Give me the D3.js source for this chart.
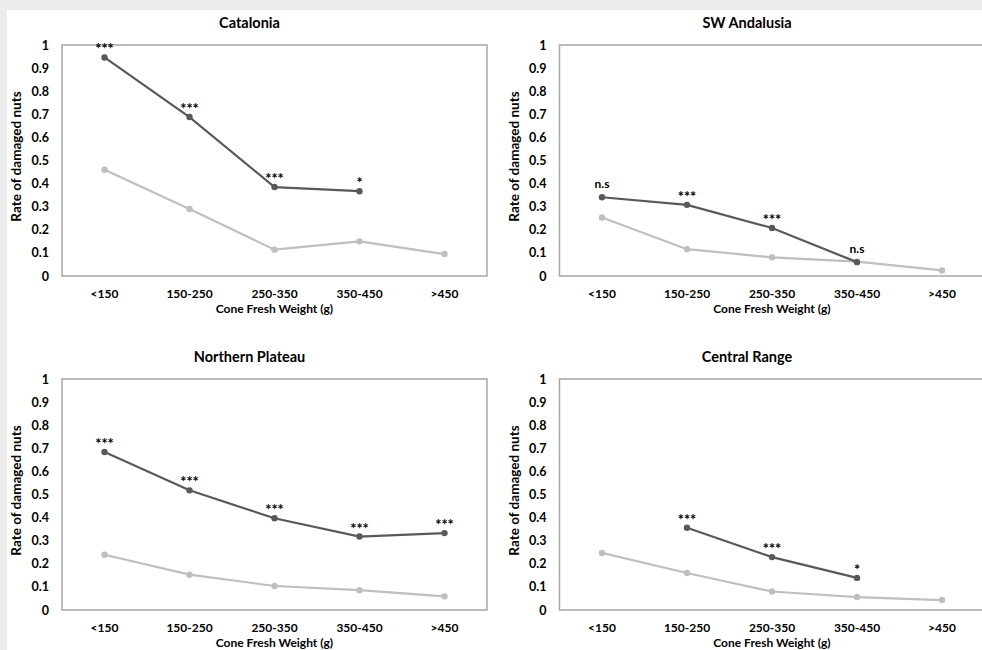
<!DOCTYPE html>
<html>
<head>
<meta charset="utf-8">
<script src="https://cdn.jsdelivr.net/npm/d3@7"></script>
<style>
  body { margin: 0; background: #ececec; }
  svg text { font-family: Lato, "Open Sans", sans-serif; font-weight: bold; fill: #000; }
</style>
</head>
<body>
<div id="chart"></div>
<script>
/* DATA */
const categories = ["<150", "150-250", "250-350", "350-450", ">450"];
const yTicks = [0, 0.1, 0.2, 0.3, 0.4, 0.5, 0.6, 0.7, 0.8, 0.9, 1];

const regions = ["Catalonia", "SW Andalusia", "Northern Plateau", "Central Range"];

// dark series (null = no point)
const catDark = [0.946, 0.688, 0.385, 0.367, null];
const andDark = [0.341, 0.308, 0.208, 0.060, null];
const norDark = [0.684, 0.518, 0.397, 0.318, 0.333];
const cenDark = [null, 0.356, 0.229, 0.139, null];

// light series
const catLight = [0.460, 0.290, 0.114, 0.150, 0.095];
const andLight = [0.253, 0.116, 0.081, 0.062, 0.024];
const norLight = [0.239, 0.153, 0.104, 0.086, 0.059];
const cenLight = [0.247, 0.160, 0.080, 0.056, 0.043];

// significance labels above the dark points
const catSig = ["***", "***", "***", "*", null];
const andSig = ["n.s", "***", "***", "n.s", null];
const norSig = ["***", "***", "***", "***", "***"];
const cenSig = [null, "***", "***", "*", null];

const xTitle = "Cone Fresh Weight (g)";
const yTitle = "Rate of damaged nuts";

/* LAYOUT */
const width = 982, height = 650;
const plotW = 425, plotH = 231;
const panels = [
  { title: regions[0], dark: catDark, light: catLight, sig: catSig, left: 62, top: 45 },
  { title: regions[1], dark: andDark, light: andLight, sig: andSig, left: 559.5, top: 45 },
  { title: regions[2], dark: norDark, light: norLight, sig: norSig, left: 62, top: 379 },
  { title: regions[3], dark: cenDark, light: cenLight, sig: cenSig, left: 559.5, top: 379 }
];

const darkColor = "#595959", lightColor = "#bfbfbf", frameColor = "#a6a6a6";

const svg = d3.select("#chart")
  .append("svg")
  .attr("width", width)
  .attr("height", height);

svg.append("rect")
  .attr("x", 7).attr("y", 10)
  .attr("width", width - 7).attr("height", height - 10)
  .attr("fill", "#fff");

panels.forEach(p => {
  const g = svg.append("g").attr("transform", `translate(${p.left}, ${p.top})`);

  const xScale = d3.scaleBand()
    .domain(categories)
    .range([0, plotW]);

  const yScale = d3.scaleLinear()
    .domain([0, 1])
    .range([plotH, 0]);

  const cx = d => xScale(d) + xScale.bandwidth() / 2;

  // frame
  g.append("rect")
    .attr("width", plotW).attr("height", plotH)
    .attr("fill", "none")
    .attr("stroke", frameColor)
    .attr("stroke-width", 1.5);

  // title
  g.append("text")
    .attr("x", plotW / 2 - 25)
    .attr("y", -21)
    .attr("text-anchor", "middle")
    .attr("dominant-baseline", "middle")
    .attr("font-size", 14.5)
    .text(p.title);

  // y axis
  const yAxis = d3.axisLeft(yScale)
    .tickValues(yTicks)
    .tickSize(0)
    .tickPadding(13)
    .tickFormat(d => d3.format("")(d));
  g.append("g")
    .attr("class", "axis y-axis")
    .call(yAxis)
    .call(a => a.select(".domain").remove())
    .selectAll("text")
    .attr("font-size", 12.5)
    .attr("font-family", null);

  // x axis
  const xAxis = d3.axisBottom(xScale).tickSize(0).tickPadding(13);
  g.append("g")
    .attr("class", "axis x-axis")
    .attr("transform", `translate(0, ${plotH})`)
    .call(xAxis)
    .call(a => a.select(".domain").remove())
    .selectAll("text")
    .attr("font-size", 12)
    .attr("font-family", null);

  g.append("text")
    .attr("x", plotW / 2)
    .attr("y", plotH + 37)
    .attr("text-anchor", "middle")
    .attr("font-size", 12)
    .text(xTitle);

  g.append("text")
    .attr("transform", `translate(-44, ${plotH / 2 - 4}) rotate(-90)`)
    .attr("text-anchor", "middle")
    .attr("dominant-baseline", "middle")
    .attr("font-size", 13.5)
    .text(yTitle);

  // series
  const line = d3.line()
    .defined(d => d.v !== null)
    .x(d => cx(d.c))
    .y(d => yScale(d.v));

  [[p.light, lightColor], [p.dark, darkColor]].forEach(([vals, color]) => {
    const pts = categories.map((c, i) => ({ c: c, v: vals[i] }));
    g.append("path")
      .datum(pts)
      .attr("fill", "none")
      .attr("stroke", color)
      .attr("stroke-width", 2.2)
      .attr("d", line);
    g.selectAll(null)
      .data(pts.filter(d => d.v !== null))
      .join("circle")
      .attr("cx", d => cx(d.c))
      .attr("cy", d => yScale(d.v))
      .attr("r", 3.2)
      .attr("fill", color);
  });

  // significance labels
  const sigPts = categories
    .map((c, i) => ({ c: c, v: p.dark[i], s: p.sig[i] }))
    .filter(d => d.s && d.v !== null);
  g.selectAll(null)
    .data(sigPts)
    .join("text")
    .attr("x", d => cx(d.c))
    .attr("y", d => yScale(d.v) - (d.s === "n.s" ? 9 : 3))
    .attr("text-anchor", "middle")
    .attr("font-size", d => d.s === "n.s" ? 12 : 14.5)
    .text(d => d.s);
});
</script>
</body>
</html>
